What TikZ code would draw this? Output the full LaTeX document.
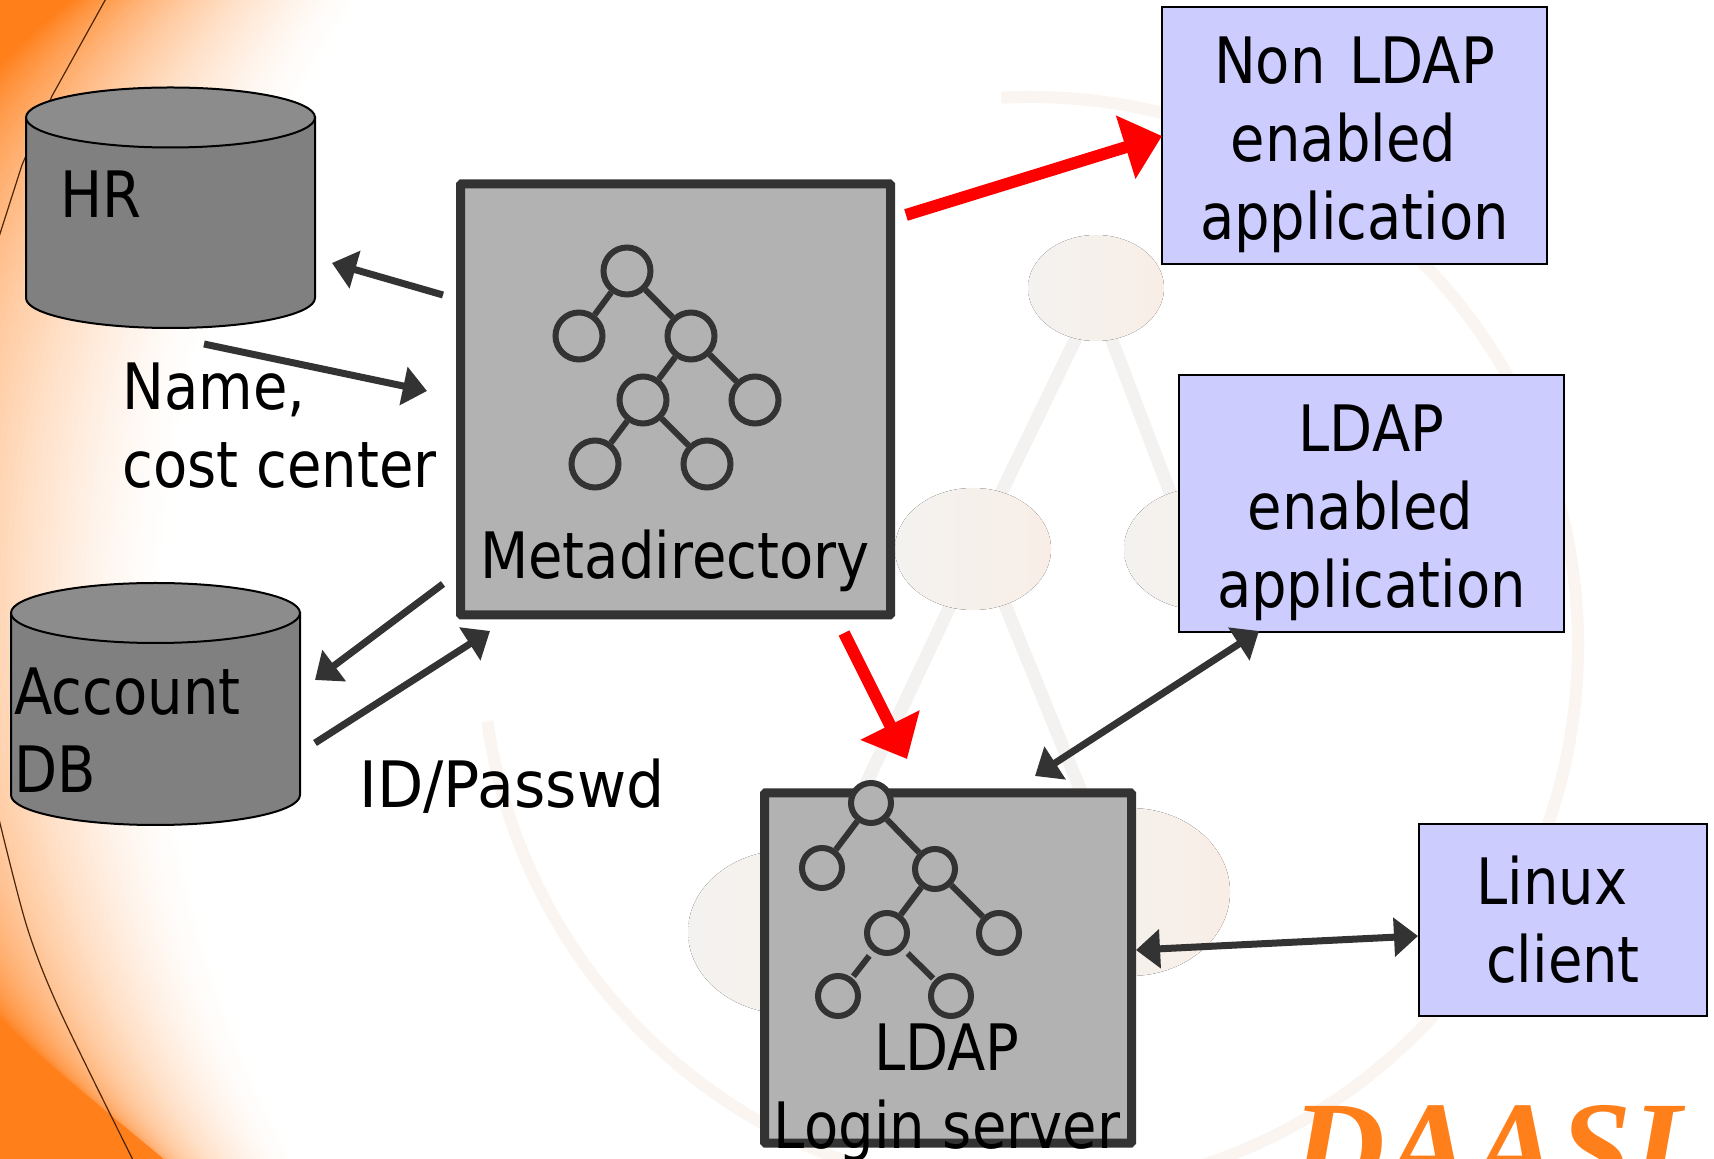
\documentclass[tikz,border=0pt]{standalone}
\usepackage{fontspec}
\setmainfont[FakeStretch=0.875]{DejaVu Sans}
\newfontfamily\widerfont[FakeStretch=0.94]{DejaVu Sans}
\newfontfamily\logofont{Liberation Serif}
\usetikzlibrary{arrows.meta}
\definecolor{dk}{HTML}{333333}
\definecolor{boxgrey}{HTML}{B2B2B2}
\definecolor{bluebox}{HTML}{CCCCFF}
\definecolor{cyltop}{HTML}{8C8C8C}
\definecolor{cylbody}{HTML}{808080}
\definecolor{org}{HTML}{FF7F1A}
\definecolor{ringc}{HTML}{FAF5F0}
\definecolor{wml}{HTML}{F4F2F0}
\definecolor{wmr}{HTML}{F8EEE6}
\tikzset{
  x=0.5pt,y=-0.5pt,
  lab/.style={font=\fontsize{32}{39}\selectfont,align=center,inner sep=0pt,text=black},
  serverbox/.style={draw=dk,fill=boxgrey,line width=4.5pt,rounded corners=0.5pt,inner sep=0pt},
  appbox/.style={draw=black,fill=bluebox,line width=1.2pt,inner sep=0pt,lab},
  leaf/.style={circle,draw=dk,fill=boxgrey,line width=3pt,inner sep=0pt,minimum size=23.5pt},
  sleaf/.style={leaf,minimum size=20pt},
  tedge/.style={draw=dk,line width=3pt},
  cyl/.style={draw=black,line width=1pt},
  flow/.style={draw=dk,line width=3.5pt,-{Triangle[length=12pt,width=19pt]}},
  twoway/.style={draw=dk,line width=3.5pt,{Triangle[length=12pt,width=19pt]}-{Triangle[length=12pt,width=19pt]}},
  hot/.style={draw=red,line width=6pt,-{Triangle[length=19pt,width=32pt]}},
  wmdisc/.style={left color=wml,right color=wmr,draw=none},
  wmline/.style={draw=wml,line width=6.5pt},
}
\begin{document}
\begin{tikzpicture}
\clip (0,0) rectangle (1714,1159);
\useasboundingbox (0,0) rectangle (1714,1159);
% orange background
\fill[org] (0,0) rectangle (1714,1159);
\foreach \i in {0,...,60}{
  \pgfmathsetmacro{\tv}{\i/60}
  \pgfmathsetmacro{\cxv}{475+\tv*(1283-475)}
  \pgfmathsetmacro{\cyv}{540+\tv*(633-540)}
  \pgfmathsetmacro{\rr}{(675+\tv*(1119-675))*0.5}
  \pgfmathsetmacro{\mixv}{100*(1-\tv)^1.5}
  \fill[org!\mixv!white] (\cxv,\cyv) circle[radius=\rr pt];
}
% thin arc
\draw[draw=black!70!org,line width=0.6pt] (108,-5) -- (52,96) -- (22,165) -- (-2,240);
\draw[draw=black!70!org,line width=0.6pt] plot[smooth] coordinates {(-2,815) (27,927) (60,1011) (134,1162)};
% watermark
\draw[draw=ringc,line width=6pt] (1030,645) ++(93:274pt) arc[start angle=93,end angle=-172,radius=274pt];
\draw[wmline] (1080,330) -- (1000,495);
\draw[wmline] (1108,330) -- (1171,495);
\draw[wmline] (953,600) -- (830,860);
\draw[wmline] (1003,600) -- (1105,850);
\fill[wmdisc] (1096,288) ellipse[x radius=34pt,y radius=26.5pt];
\fill[wmdisc] (973,549) ellipse[x radius=39pt,y radius=30.5pt];
\fill[wmdisc] (1202,549) ellipse[x radius=39pt,y radius=30.5pt];
\fill[wmdisc] (788,932) ellipse[x radius=50pt,y radius=41pt];
\fill[wmdisc] (1130,892) ellipse[x radius=50pt,y radius=42pt];
% logo
\node[anchor=base,inner sep=0pt,text=org,font=\fontsize{65}{70}\selectfont\logofont\bfseries\itshape] (logo) at (1487,1191) {DAASI};
% cylinders
\path[cyl,fill=cylbody] (26,117.5) -- (26,298) arc[start angle=180,end angle=360,x radius=72.25pt,y radius=15pt] -- (315,117.5) -- cycle;
\path[cyl,fill=cyltop] (170.5,117.5) ellipse[x radius=72.25pt,y radius=15pt];
\node[lab] (hr) at (101,194) {HR};
\path[cyl,fill=cylbody] (11,613) -- (11,795) arc[start angle=180,end angle=360,x radius=72.25pt,y radius=15pt] -- (300,613) -- cycle;
\path[cyl,fill=cyltop] (155.5,613) ellipse[x radius=72.25pt,y radius=15pt];
\node[lab,align=left,anchor=west] (acct) at (14,730) {Account\\DB};
% labels
\node[lab,align=left,anchor=west] (namecc) at (122,426) {Name,\\cost center};
\node[lab,font=\fontsize{32}{39}\selectfont\widerfont] (idp) at (512,786) {ID/Passwd};
% metadirectory
\node[serverbox,minimum width=215pt,minimum height=215.5pt] (meta) at (675.5,399.5) {};
\node[lab] (metalabel) at (675,561) {Metadirectory};
\node[leaf] (m1) at (627,271) {};
\node[leaf] (m2) at (579,336) {};
\node[leaf] (m3) at (691,336) {};
\node[leaf] (m4) at (643,400) {};
\node[leaf] (m5) at (755,400) {};
\node[leaf] (m6) at (595,464) {};
\node[leaf] (m7) at (707,464) {};
\draw[tedge] (m1)--(m2); \draw[tedge] (m1)--(m3); \draw[tedge] (m3)--(m4); \draw[tedge] (m3)--(m5); \draw[tedge] (m4)--(m6); \draw[tedge] (m4)--(m7);
% login server
\node[serverbox,minimum width=183.5pt,minimum height=175pt] (login) at (948,968) {};
\node[sleaf] (l1) at (871,803) {};
\node[sleaf] (l2) at (822,868) {};
\node[sleaf] (l3) at (935,869) {};
\node[sleaf] (l4) at (887,933) {};
\node[sleaf] (l5) at (999,933) {};
\node[sleaf] (l6) at (838,996) {};
\node[sleaf] (l7) at (951,996) {};
\draw[tedge] (l1)--(l2); \draw[tedge] (l1)--(l3); \draw[tedge] (l3)--(l4); \draw[tedge] (l3)--(l5);
\draw[tedge,shorten <=3pt,shorten >=1pt] (l4)--(l6); \draw[tedge,shorten <=3pt,shorten >=1pt] (l4)--(l7);
\node[lab] (loginlabel) at (947,1093) {LDAP\\Login server};
% apps
\node[appbox,minimum width=192.5pt,minimum height=128.5pt] (nonldap) at (1354.5,135.5) {\rule{0pt}{32.3pt}Non\hspace{3pt} LDAP\\enabled\hspace*{11pt}\null\\application};
\node[appbox,minimum width=192.5pt,minimum height=128.5pt] (ldap) at (1371.5,503.5) {\rule{0pt}{32.3pt}LDAP\\enabled\hspace*{11pt}\null\\application};
\node[appbox,minimum width=144pt,minimum height=96pt] (linux) at (1563,920) {Linux\hspace*{11pt}\null\\client};
% free ends
\coordinate (a1s) at (443,295); \coordinate (a1e) at (332,263);
\coordinate (a2s) at (204,344); \coordinate (a2e) at (427,391);
\coordinate (a3s) at (443,584); \coordinate (a3e) at (315,680);
\coordinate (a4s) at (315,743); \coordinate (a4e) at (490,631);
\coordinate (r1s) at (906,215); \coordinate (r1e) at (1162,136);
\coordinate (r2s) at (844,633); \coordinate (r2e) at (907,759);
\coordinate (d1s) at (1035,776); \coordinate (d1e) at (1259,631);
\coordinate (d2s) at (1136,950); \coordinate (d2e) at (1418,936);
\draw[flow] (a1s)--(a1e);
\draw[flow] (a2s)--(a2e);
\draw[flow] (a3s)--(a3e);
\draw[flow] (a4s)--(a4e);
\draw[hot] (r1s)--(r1e);
\draw[hot] (r2s)--(r2e);
\draw[twoway] (d1s)--(d1e);
\draw[twoway] (d2s)--(d2e);
\end{tikzpicture}
\end{document}
